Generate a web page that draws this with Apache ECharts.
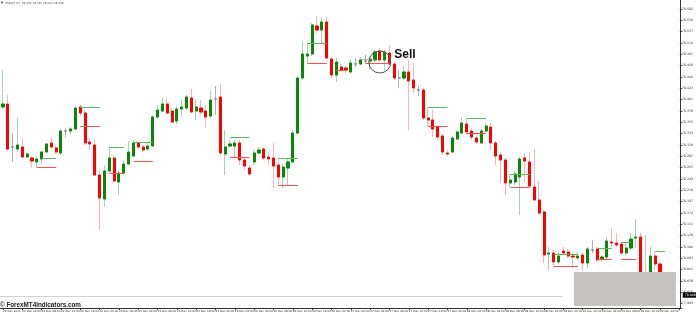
<!DOCTYPE html>
<html><head><meta charset="utf-8">
<script src="https://cdn.jsdelivr.net/npm/echarts@6/dist/echarts.min.js"></script>
<style>html,body{margin:0;padding:0;background:#fff;overflow:hidden}#c{width:696px;height:314px}</style>
</head><body><div id="c"></div>
<script>
// ---- data (USDJPY H1) ----
const openP = [78.386,78.392,78.306,78.302,78.306,78.286,78.284,78.276,78.282,78.296,
 78.314,78.304,78.294,78.338,78.338,78.342,78.386,78.374,78.316,78.310,
 78.250,78.202,78.258,78.284,78.236,78.254,78.272,78.288,78.314,78.306,
 78.302,78.308,78.366,78.378,78.392,78.378,78.358,78.382,78.384,78.404,
 78.378,78.384,78.378,78.368,78.402,78.406,78.292,78.308,78.308,78.314,
 78.280,78.264,78.276,78.294,78.302,78.286,78.284,78.270,78.246,78.264,
 78.276,78.334,78.444,78.488,78.492,78.548,78.540,78.556,78.482,78.450,
 78.466,78.464,78.456,78.472,78.472,78.478,78.478,78.480,78.498,78.480,
 78.494,78.472,78.444,78.444,78.456,78.440,78.420,78.420,78.364,78.360,
 78.346,78.328,78.294,78.296,78.322,78.334,78.352,78.338,78.324,78.314,
 78.338,78.346,78.314,78.290,78.280,78.234,78.236,78.246,78.284,78.276,
 78.226,78.200,78.176,78.092,78.094,78.076,78.098,78.096,78.088,78.084,
 78.090,78.074,78.100,78.102,78.082,78.086,78.116,78.114,78.112,78.094,
 78.104,78.124,78.126,78.040,78.034,78.088,78.072];
const closeP = [78.392,78.302,78.306,78.310,78.286,78.292,78.278,78.282,78.296,78.312,
 78.306,78.296,78.338,78.338,78.342,78.384,78.374,78.314,78.312,78.250,
 78.204,78.258,78.284,78.238,78.254,78.272,78.296,78.314,78.306,78.300,
 78.308,78.366,78.380,78.392,78.374,78.356,78.382,78.386,78.406,78.376,
 78.386,78.376,78.366,78.400,78.402,78.294,78.306,78.312,78.314,78.280,
 78.268,78.252,78.294,78.300,78.284,78.282,78.268,78.246,78.266,78.276,
 78.334,78.444,78.492,78.492,78.550,78.540,78.556,78.484,78.450,78.476,
 78.460,78.460,78.474,78.472,78.480,78.478,78.482,78.496,78.480,78.496,
 78.472,78.444,78.444,78.456,78.438,78.424,78.420,78.364,78.360,78.342,
 78.326,78.296,78.292,78.324,78.336,78.354,78.336,78.326,78.316,78.338,
 78.348,78.314,78.288,78.280,78.234,78.240,78.252,78.282,78.278,78.228,
 78.200,78.174,78.090,78.094,78.076,78.088,78.094,78.088,78.086,78.088,
 78.074,78.102,78.100,78.080,78.086,78.118,78.114,78.110,78.094,78.104,
 78.122,78.126,78.040,78.032,78.088,78.072,78.008];
const highP = [78.460,78.410,78.334,78.364,78.322,78.296,78.288,78.286,78.298,78.314,
 78.324,78.310,78.342,78.344,78.346,78.386,78.390,78.380,78.324,78.320,
 78.260,78.268,78.308,78.290,78.260,78.280,78.318,78.320,78.318,78.310,
 78.316,78.370,78.390,78.406,78.404,78.384,78.388,78.400,78.410,78.422,
 78.402,78.400,78.390,78.418,78.428,78.432,78.340,78.320,78.320,78.320,
 78.286,78.270,78.300,78.306,78.306,78.296,78.314,78.284,78.272,78.284,
 78.340,78.448,78.516,78.514,78.554,78.568,78.564,78.566,78.486,78.484,
 78.472,78.468,78.482,78.484,78.486,78.490,78.488,78.500,78.504,78.500,
 78.510,78.476,78.460,78.468,78.480,78.474,78.428,78.424,78.386,78.380,
 78.350,78.332,78.300,78.328,78.340,78.366,78.364,78.344,78.328,78.342,
 78.354,78.354,78.318,78.296,78.284,78.252,78.258,78.286,78.294,78.296,
 78.302,78.238,78.180,78.106,78.100,78.096,78.106,78.102,78.094,78.096,
 78.094,78.106,78.120,78.106,78.090,78.126,78.144,78.134,78.116,78.116,
 78.134,78.162,78.134,78.130,78.106,78.098,78.076];
const lowP = [78.382,78.300,78.276,78.296,78.284,78.284,78.264,78.266,78.272,78.294,
 78.302,78.292,78.290,78.326,78.330,78.340,78.368,78.310,78.300,78.248,
 78.140,78.186,78.256,78.234,78.210,78.250,78.270,78.286,78.302,78.296,
 78.298,78.306,78.362,78.376,78.372,78.354,78.352,78.368,78.380,78.374,
 78.360,78.370,78.344,78.364,78.370,78.290,78.250,78.304,78.286,78.270,
 78.260,78.250,78.270,78.292,78.280,78.270,78.224,78.230,78.224,78.230,
 78.274,78.332,78.440,78.474,78.488,78.534,78.514,78.482,78.444,78.436,
 78.456,78.454,78.452,78.466,78.470,78.474,78.460,78.476,78.478,78.460,
 78.470,78.440,78.424,78.440,78.340,78.414,78.408,78.360,78.348,78.326,
 78.320,78.290,78.288,78.294,78.320,78.332,78.330,78.320,78.312,78.312,
 78.336,78.300,78.270,78.234,78.210,78.226,78.230,78.170,78.236,78.224,
 78.198,78.170,78.074,78.060,78.068,78.072,78.090,78.084,78.064,78.080,
 78.060,78.064,78.094,78.076,78.076,78.082,78.106,78.106,78.090,78.090,
 78.100,78.104,78.036,78.020,78.030,78.060,78.004];

// time-axis tick labels (one every 4 bars)
const tickLabels = ['22 Dec 2011','22 Dec 04:00','22 Dec 08:00','22 Dec 12:00','22 Dec 16:00','22 Dec 20:00',
 '23 Dec 00:00','23 Dec 04:00','23 Dec 08:00','23 Dec 12:00','23 Dec 16:00','23 Dec 20:00',
 '26 Dec 00:00','26 Dec 04:00','26 Dec 08:00','26 Dec 12:00','26 Dec 16:00','26 Dec 20:00',
 '27 Dec 00:00','27 Dec 04:00','27 Dec 08:00','27 Dec 12:00','27 Dec 16:00','27 Dec 20:00',
 '28 Dec 00:00','28 Dec 04:00','28 Dec 08:00','28 Dec 12:00','28 Dec 16:00','28 Dec 20:00',
 '29 Dec 00:00','29 Dec 04:00','29 Dec 08:00','29 Dec 12:00','29 Dec 16:00'];
// price-axis tick labels
const priceTicks = [78.582,78.559,78.537,78.514,78.491,78.469,78.446,78.423,78.401,78.378,78.355,78.333,78.310,
 78.287,78.265,78.242,78.219,78.197,78.174,78.151,78.129,78.106,78.083,78.061,78.038,78.015,77.993];

// indicator levels
const levelStart = [8,7,16,16,22,22,27,27,47,47,57,57,63,63,75,88,88,96,96,105,105,114,114,123,123,128,128,135,69,74];
const levelEnd   = [11,11,20,20,25,25,31,31,51,51,61,61,67,67,80,92,92,100,100,109,109,119,119,126,126,130,131,137,71,77];
const levelPrice = [78.284,78.266,78.386,78.348,78.306,78.254,78.316,78.278,78.326,78.286,
 78.284,78.230,78.514,78.474,78.474,78.386,78.348,78.364,78.334,78.252,
 78.226,78.092,78.068,78.104,78.082,78.116,78.082,78.098,78.460,78.482];
const levelKind  = ['up','down','up','down','up','down','up','down','up','down',
 'up','down','up','down','down','up','down','up','down','up',
 'down','up','down','up','down','up','down','up','down','mid'];

const lastPrice = 78.008;
const sellIndex = 78, sellPrice = 78.476, sellText = 'Sell';
const titleText = 'USDJPY,H1  78.016 78.030 78.004 78.008';
const watermark = '\u00a9 ForexMT4Indicators.com';

// ---- build ----
const nSlots = 141;
const categories = [];
for (let i = 0; i < nSlots; i++) categories.push('b' + i);
const wickData = openP.map((o, i) => [o, closeP[i], lowP[i], highP[i]]);
const bodyData = openP.map((o, i) => [o, closeP[i], Math.min(o, closeP[i]), Math.max(o, closeP[i])]);
const levelData = levelStart.map((s, i) => [s, levelEnd[i], levelPrice[i]]);
const levelColor = {up: '#5cb85c', down: '#ff5050', mid: '#9a9a9a'};

const chart = echarts.init(document.getElementById('c'), null, {renderer: 'canvas'});
const gridLeft = -2.15, band = 4.9;
chart.setOption({
  animation: false,
  backgroundColor: '#ffffff',
  grid: {left: gridLeft, top: 0, width: band * nSlots, height: 308},
  xAxis: {
    type: 'category', data: categories, boundaryGap: true,
    axisLine: {show: true, lineStyle: {color: '#333', width: 1}},
    axisTick: {show: true, interval: 3, length: 2, alignWithLabel: true, lineStyle: {color: '#333'}},
    axisLabel: {show: true, interval: 3, align: 'left', margin: 2, fontSize: 2.8, color: '#333',
      fontFamily: 'DejaVu Sans',
      formatter: (v, idx) => tickLabels[idx / 4] || ''},
    splitLine: {show: false}
  },
  yAxis: {
    type: 'value', position: 'right', offset: -1.9, min: 77.984, max: 78.600,
    axisLine: {show: true, lineStyle: {color: '#333', width: 1}},
    axisTick: {show: true, length: 2, customValues: priceTicks, lineStyle: {color: '#333'}},
    axisLabel: {show: true, customValues: priceTicks, margin: 2, fontSize: 3.2, color: '#333',
      fontFamily: 'DejaVu Sans', formatter: v => v.toFixed(3)},
    splitLine: {show: false}
  },
  series: [
    {type: 'candlestick', name: 'wick', data: wickData, barWidth: 2.6, silent: true,
      itemStyle: {color: '#b9e0b9', color0: '#ffc6c6', borderColor: '#a6d6a6', borderColor0: '#ffb4b4',
        borderColorDoji: '#b0b0b0', borderWidth: 1}},
    {type: 'candlestick', name: 'body', data: bodyData, barWidth: 2.6, silent: true,
      itemStyle: {color: '#078807', color0: '#ff0000', borderColor: '#078807', borderColor0: '#ff0000',
        borderColorDoji: '#8a8a8a', borderWidth: 1},
      markLine: {silent: true, symbol: ['none', 'none'], animation: false,
        lineStyle: {color: 'rgba(0,0,0,0)', width: 0},
        label: {show: true, position: 'end', distance: 1, formatter: lastPrice.toFixed(3),
          backgroundColor: '#000', color: '#fff', fontSize: 3.2, padding: [1.2, 2], fontFamily: 'DejaVu Sans'},
        data: [{yAxis: lastPrice}]}},
    {type: 'custom', name: 'levels', data: levelData, silent: true, z: 3,
      encode: {x: [0, 1], y: 2},
      renderItem: (params, api) => {
        const i = params.dataIndex;
        const p1 = api.coord([levelStart[i], levelPrice[i]]);
        const p2 = api.coord([levelEnd[i], levelPrice[i]]);
        const k = levelKind[i];
        return {type: 'line', shape: {x1: p1[0], y1: Math.round(p1[1]) + 0.5, x2: p2[0], y2: Math.round(p1[1]) + 0.5},
          style: {stroke: levelColor[k], lineWidth: 1, lineDash: k === 'mid' ? [2, 1] : null}};
      }}
  ]
});

const sp = chart.convertToPixel({xAxisIndex: 0, yAxisIndex: 0}, [sellIndex, sellPrice]);
chart.setOption({
  graphic: [
    {type: 'rect', z: 100, shape: {x: 1, y: 1.5, width: 2, height: 2}, style: {fill: '#777'}},
    {type: 'text', z: 100, x: 5, y: 2.8, style: {text: titleText, font: '2.8px "DejaVu Sans"', fill: '#555', verticalAlign: 'middle'}},
    {type: 'line', z: 100, shape: {x1: 0, y1: 296.5, x2: 562, y2: 296.5}, style: {stroke: '#d2d2d2', lineWidth: 1}},
    {type: 'text', z: 100, x: 0, y: 305.5, style: {text: watermark, font: 'bold 6.3px "Liberation Sans"', fill: '#222', verticalAlign: 'middle'}},
    {type: 'rect', z: 100, shape: {x: 574, y: 272, width: 102, height: 34}, style: {fill: '#c4c3bf'}},
    {type: 'circle', z: 100, shape: {cx: sp[0], cy: sp[1], r: 11}, style: {fill: 'none', stroke: '#555', lineWidth: 1}},
    {type: 'text', z: 100, x: sp[0] + 14.5, y: sp[1] - 7.5, style: {text: sellText, font: 'bold 12px "Liberation Sans"', fill: '#111', verticalAlign: 'middle'}}
  ]
});
</script></body></html>
